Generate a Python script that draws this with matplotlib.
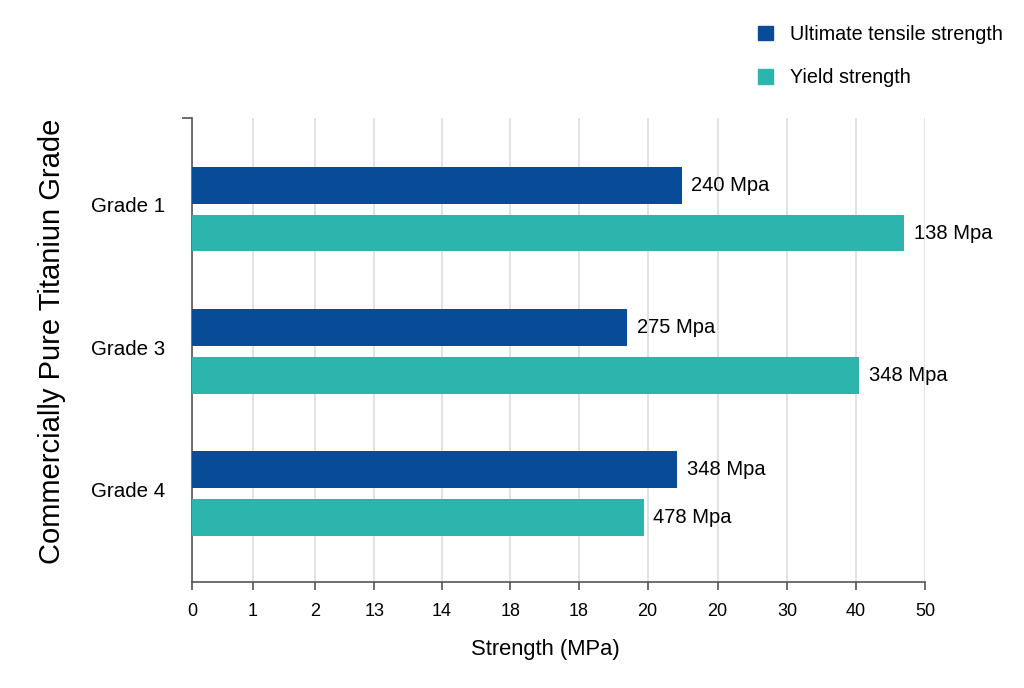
import matplotlib
matplotlib.use("Agg")
import matplotlib.pyplot as plt
import numpy as np
from matplotlib.patches import Patch

plt.rcParams['font.family'] = ['Liberation Sans', 'DejaVu Sans']

grades = ["Grade 1", "Grade 3", "Grade 4"]
uts_values = [33.4, 29.7, 33.1]
yield_values = [48.6, 45.5, 30.8]
uts_labels = ["240 Mpa", "275 Mpa", "348 Mpa"]
yield_labels = ["138 Mpa", "348 Mpa", "478 Mpa"]
tick_positions = [0, 4.16, 8.39, 12.43, 17.06, 21.72, 26.38, 31.08, 35.85, 40.59, 45.30, 50]
tick_labels = ["0", "1", "2", "13", "14", "18", "18", "20", "20", "30", "40", "50"]

uts_color = "#084C97"
yield_color = "#2BB5AD"

fig = plt.figure(figsize=(10.24, 6.88), dpi=100)
W, H = 1024, 688
ax = fig.add_axes([192 / W, (H - 582) / H, (925 - 192) / W, (582 - 118) / H])

y = np.arange(len(grades))
bh = 0.259
off = 0.168
ax.barh(y - off, uts_values, height=bh, color=uts_color, zorder=3)
ax.barh(y + off, yield_values, height=bh, color=yield_color, zorder=3)

for yi, v, lab in zip(y - off, uts_values, uts_labels):
    ax.annotate(lab, (v, yi), xytext=(7, 0), textcoords="offset points",
                va="center", ha="left", fontsize=14.5)
for yi, v, lab in zip(y + off, yield_values, yield_labels):
    ax.annotate(lab, (v, yi), xytext=(7, 0), textcoords="offset points",
                va="center", ha="left", fontsize=14.5)

ax.set_xlim(0, 50)
ax.set_ylim(2.62, -0.64)
ax.set_xticks(tick_positions)
ax.set_xticklabels(tick_labels, fontsize=13)
ax.set_yticks(y - 0.03)
ax.set_yticklabels(grades, fontsize=14.8)
ax.tick_params(axis="y", length=0, pad=19.5)
ax.tick_params(axis="x", length=6, width=1.2, color="#555555", pad=9)
ax.set_yticks([-0.64], minor=True)
ax.tick_params(axis="y", which="minor", length=7, width=1.2, color="#555555")

ax.grid(axis="x", color="#DDDDDD", linewidth=1.2, zorder=0)
ax.set_axisbelow(True)
for s in ["top", "right"]:
    ax.spines[s].set_visible(False)
for s in ["left", "bottom"]:
    ax.spines[s].set_color("#555555")
    ax.spines[s].set_linewidth(1.2)

ax.set_xlabel("Strength (MPa)", fontsize=15.8)
ax.xaxis.set_label_coords((545 - 192) / (925 - 192), -(650 - 582) / (582 - 118))
ax.xaxis.label.set_va("center")
ax.set_ylabel("Commercially Pure Titaniun Grade", fontsize=21)
ax.yaxis.set_label_coords(-(192 - 52) / (925 - 192), (582 - 341) / (582 - 118))
ax.yaxis.label.set_va("center")

handles = [Patch(color=uts_color), Patch(color=yield_color)]
fig.legend(handles, ["Ultimate tensile strength", "Yield strength"],
           loc="upper left", bbox_to_anchor=(740 / W, 1 - 7 / H),
           frameon=False, fontsize=14.2, handlelength=0.75, handleheight=0.75,
           handletextpad=0.9, labelspacing=1.25)

fig.savefig("out.png", dpi=100)
